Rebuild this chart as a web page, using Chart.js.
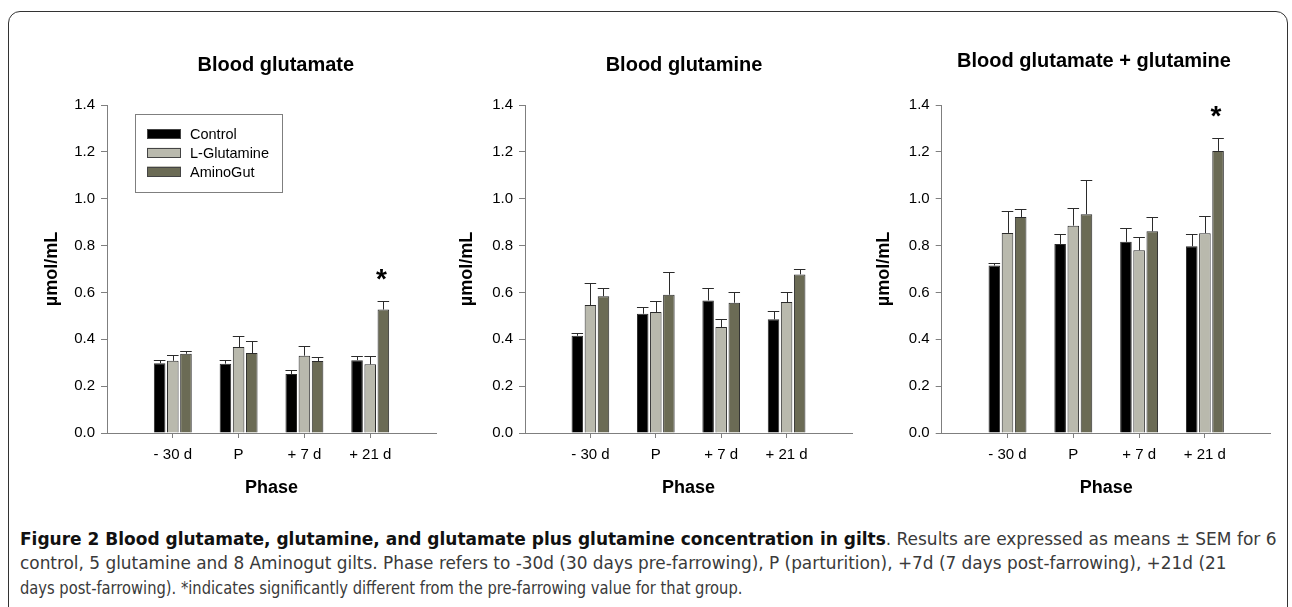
<!DOCTYPE html>
<html>
<head>
<meta charset="utf-8">
<script src="https://cdn.jsdelivr.net/npm/chart.js@4.4.0/dist/chart.umd.min.js"></script>
<style>
html, body { margin: 0; padding: 0; background: #fff; overflow: hidden; }
body { width: 1292px; height: 607px; position: relative; }
#frame { position: absolute; left: 8px; top: 11px; width: 1280px; height: 660px; border: 1.5px solid #333; border-radius: 12px; box-sizing: border-box; }
canvas { position: absolute; }
.cap { position: absolute; left: 20px; white-space: nowrap; font-family: "DejaVu Sans Condensed", "Liberation Sans Narrow", sans-serif; font-stretch: condensed; font-size: 17px; line-height: 24px; color: #3a3a3a; transform-origin: 0 50%; }
.cap b { color: #111; }
</style>
</head>
<body>
<div id="frame"></div>
<canvas id="c1" width="420" height="490" style="left:20px;top:20px"></canvas>
<canvas id="c2" width="416" height="490" style="left:440px;top:20px"></canvas>
<canvas id="c3" width="430" height="490" style="left:856px;top:20px"></canvas>
<div class="cap" id="l1" style="top:527px"><b>Figure 2 Blood glutamate, glutamine, and glutamate plus glutamine concentration in gilts</b>. Results are expressed as means ± SEM for 6</div>
<div class="cap" id="l2" style="top:551px">control, 5 glutamine and 8 Aminogut gilts. Phase refers to -30d (30 days pre-farrowing), P (parturition), +7d (7 days post-farrowing), +21d (21</div>
<div class="cap" id="l3" style="top:576px">days post-farrowing). *indicates significantly different from the pre-farrowing value for that group.</div>
<script>
const categories = ['- 30 d', 'P', '+ 7 d', '+ 21 d'];
const groups = ['Control', 'L-Glutamine', 'AminoGut'];
const colors = ['#000000', '#b9b9ad', '#6b6b55'];
const titles = ['Blood glutamate', 'Blood glutamine', 'Blood glutamate + glutamine'];

// means per group (Control, L-Glutamine, AminoGut)
const gluMeans = [[0.298, 0.296, 0.252, 0.311], [0.308, 0.367, 0.330, 0.293], [0.338, 0.341, 0.307, 0.527]];
const gluSem = [[0.015, 0.017, 0.018, 0.019], [0.023, 0.045, 0.041, 0.034], [0.010, 0.050, 0.018, 0.036]];
const glnMeans = [[0.415, 0.509, 0.566, 0.485], [0.546, 0.516, 0.452, 0.559], [0.584, 0.590, 0.556, 0.677]];
const glnSem = [[0.010, 0.028, 0.054, 0.034], [0.096, 0.047, 0.035, 0.044], [0.034, 0.099, 0.044, 0.024]];
const sumMeans = [[0.715, 0.807, 0.816, 0.797], [0.854, 0.885, 0.780, 0.853], [0.922, 0.934, 0.861, 1.204]];
const sumSem = [[0.011, 0.043, 0.061, 0.051], [0.095, 0.077, 0.056, 0.075], [0.036, 0.148, 0.061, 0.057]];
// significant (*) flags, AminoGut only
const gluSig = [0, 0, 0, 1];
const glnSig = [0, 0, 0, 0];
const sumSig = [0, 0, 0, 1];

const FONT = '"Liberation Sans", Arial, sans-serif';
const AXIS = '#7f7f7f';

// error bars, asterisks, panel title and legend
const extras = {
  id: 'extras',
  afterDatasetsDraw(chart, args, o) {
    const ctx = chart.ctx;
    const ys = chart.scales.y;
    ctx.save();
    ctx.strokeStyle = '#2b2b2b';
    ctx.lineWidth = 1;
    chart.data.datasets.forEach((ds, di) => {
      chart.getDatasetMeta(di).data.forEach((bar, i) => {
        const top = Math.round(ys.getPixelForValue(ds.data[i].y + ds.sem[i])) + 0.5;
        const x = Math.round(bar.x) + 0.5;
        const hw = bar.width / 2;
        ctx.beginPath();
        ctx.moveTo(x, bar.y);
        ctx.lineTo(x, top);
        ctx.moveTo(bar.x - hw, top);
        ctx.lineTo(bar.x + hw, top);
        ctx.stroke();
        if (ds.sig && ds.sig[i]) {
          ctx.fillStyle = '#000';
          ctx.font = 'bold 28px ' + FONT;
          ctx.textAlign = 'center';
          ctx.textBaseline = 'middle';
          ctx.fillText('*', bar.x - 2, top - 27 + 6);
        }
      });
    });
    ctx.restore();
  },
  afterDraw(chart, args, o) {
    const ctx = chart.ctx;
    ctx.save();
    ctx.fillStyle = '#000';
    ctx.font = 'bold 20px ' + FONT;
    ctx.textAlign = 'center';
    ctx.textBaseline = 'middle';
    ctx.fillText(o.title, o.titleX, o.titleY);
    if (o.legend) {
      const a = chart.chartArea;
      const bx = a.left + 28, by = a.top + 8.5;
      ctx.strokeStyle = AXIS;
      ctx.lineWidth = 1;
      ctx.strokeRect(Math.round(bx) + 0.5, Math.round(by) + 0.5, 147, 78);
      ctx.font = '14.5px ' + FONT;
      ctx.textAlign = 'left';
      chart.data.datasets.forEach((ds, i) => {
        const cy = by + 20.5 + i * 18.8;
        ctx.fillStyle = ds.backgroundColor;
        ctx.fillRect(bx + 12, cy - 5, 34, 10);
        ctx.strokeStyle = '#444';
        ctx.strokeRect(Math.round(bx + 12) + 0.5, Math.round(cy - 5) + 0.5, 33, 9);
        ctx.fillStyle = '#000';
        ctx.fillText(ds.label, bx + 55, cy + 1);
      });
    }
    ctx.restore();
  }
};

function makeChart(id, title, means, sems, sig, cfg) {
  const datasets = groups.map((g, k) => ({
    label: g,
    data: means[k].map((v, i) => ({ x: i, y: v })),
    sem: sems[k],
    sig: k === 2 ? sig : null,
    backgroundColor: colors[k],
    borderColor: '#2b2b2b',
    borderWidth: 1,
    categoryPercentage: 0.6,
    barPercentage: 0.88
  }));
  return new Chart(document.getElementById(id), {
    type: 'bar',
    data: { datasets },
    plugins: [extras],
    options: {
      responsive: false,
      animation: false,
      events: [],
      layout: { padding: { top: 85, right: cfg.padRight, left: 0, bottom: 0 } },
      plugins: {
        legend: { display: false },
        tooltip: { enabled: false },
        extras: { title, titleX: cfg.titleX, titleY: cfg.titleY, legend: cfg.legend }
      },
      scales: {
        x: {
          type: 'linear', min: -1, max: 4, offset: false,
          afterBuildTicks: s => { s.ticks = categories.map((c, i) => ({ value: i })); },
          afterFit: s => { s.height = 77; },
          ticks: { callback: v => categories[v], font: { size: 15, family: FONT }, color: '#000', padding: 8, maxRotation: 0, autoSkip: false },
          grid: { offset: false, drawOnChartArea: false, tickLength: 5, color: AXIS },
          border: { color: AXIS, width: 1 },
          title: { display: true, text: 'Phase', color: '#000', font: { size: 18, weight: 'bold', family: FONT }, padding: { top: 0, bottom: 11.2 } }
        },
        y: {
          min: 0, max: 1.4,
          afterFit: s => { s.width = cfg.yWidth; },
          ticks: { stepSize: 0.2, callback: v => v.toFixed(1), font: { size: 15, family: FONT }, color: '#000', padding: 6 },
          grid: { drawOnChartArea: false, tickLength: 6, color: AXIS },
          border: { color: AXIS, width: 1 },
          title: { display: true, text: 'µmol/mL', color: '#000', font: { size: 18, weight: 'bold', family: FONT }, padding: { top: cfg.yTitlePad, bottom: 0 } }
        }
      }
    }
  });
}

makeChart('c1', titles[0], gluMeans, gluSem, gluSig, { yWidth: 87, padRight: 4, yTitlePad: 21.7, titleX: 255.8, titleY: 45.5, legend: true });
makeChart('c2', titles[1], glnMeans, glnSem, glnSig, { yWidth: 85, padRight: 4, yTitlePad: 16.7, titleX: 244, titleY: 45.8, legend: false });
makeChart('c3', titles[2], sumMeans, sumSem, sumSig, { yWidth: 85.7, padRight: 15.3, yTitlePad: 17.2, titleX: 238, titleY: 41.5, legend: false });

// fit caption lines to the reference line lengths
[['l1', 1256], ['l2', 1206], ['l3', 722]].forEach(([id, w]) => {
  const el = document.getElementById(id);
  el.style.transform = 'scaleX(' + (w / el.scrollWidth) + ')';
});
</script>
</body>
</html>
